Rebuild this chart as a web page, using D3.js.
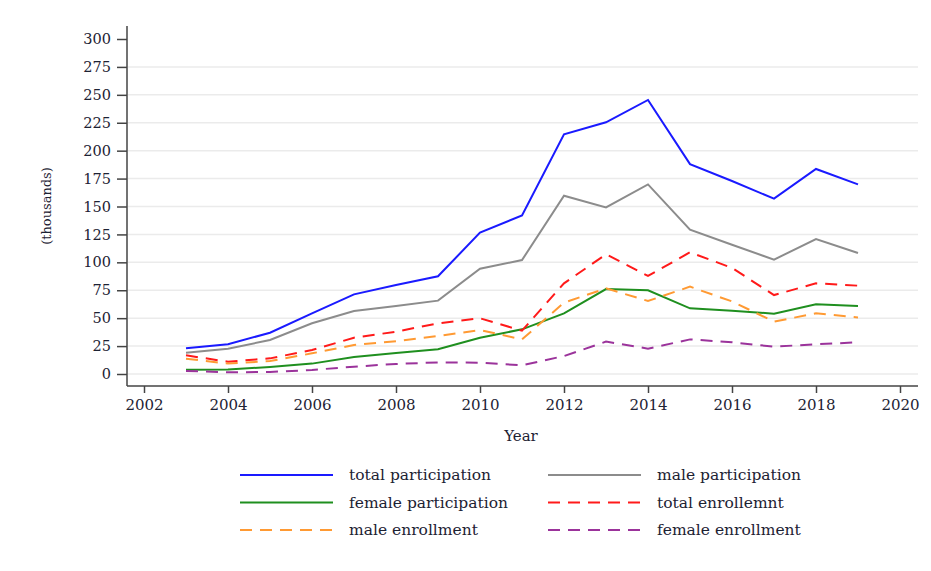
<!DOCTYPE html>
<html>
<head>
<meta charset="utf-8">
<script src="https://cdn.jsdelivr.net/npm/d3@7"></script>
<style>
    body { margin: 0; background: #fff; }
    svg { display: block; }
</style>
</head>
<body>
<svg id="chart" width="931" height="571"></svg>
<script>
const years = [2003, 2004, 2005, 2006, 2007, 2008, 2009, 2010, 2011, 2012, 2013, 2014, 2015, 2016, 2017, 2018, 2019];

const totalParticipation = [23, 26.6, 37, 54.3, 71.3, 79.7, 87.5, 126.6, 142, 214.6, 225.4, 245.4, 188, 172.8, 157, 183.6, 169.8];
const maleParticipation = [19.1, 22.7, 30.4, 45.4, 56.4, 60.9, 65.7, 94.3, 102, 159.7, 149.2, 169.8, 129.3, 115.8, 102.4, 120.9, 108.4];
const femaleParticipation = [3.9, 4, 6.3, 9.3, 15.2, 18.8, 22.1, 32.5, 40, 54.3, 76.1, 74.9, 58.8, 56.7, 54, 62.4, 60.9];
const totalEnrollment = [16.7, 11, 14, 21.5, 32.5, 37.9, 45.4, 49.9, 38.8, 81.2, 107.2, 87.8, 109, 95, 70.7, 81.2, 79.1];
const maleEnrollment = [13.7, 9.3, 11.6, 18.5, 26, 29.3, 34, 39.4, 31, 63.9, 76.7, 65.4, 78.2, 65, 46.9, 54.3, 50.7];
const femaleEnrollment = [2.7, 1.5, 1.8, 3.6, 6.6, 9, 10.4, 10.1, 7.8, 16.1, 29, 22.7, 31, 28.4, 24.5, 26.6, 28.4];

const xTicks = [2002, 2004, 2006, 2008, 2010, 2012, 2014, 2016, 2018, 2020];
const yTicks = [0, 25, 50, 75, 100, 125, 150, 175, 200, 225, 250, 275, 300];

const series = [
    { name: "total participation", values: totalParticipation, colour: "#1a1aff", dashed: false },
    { name: "male participation", values: maleParticipation, colour: "#8c8c8c", dashed: false },
    { name: "female participation", values: femaleParticipation, colour: "#1f8f1f", dashed: false },
    { name: "total enrollemnt", values: totalEnrollment, colour: "#ff1a1a", dashed: true },
    { name: "male enrollment", values: maleEnrollment, colour: "#ff9a33", dashed: true },
    { name: "female enrollment", values: femaleEnrollment, colour: "#9b339b", dashed: true }
];

const font = "DejaVu Serif, Georgia, serif";
const textColour = "#1d2233";

const svg = d3.select("#chart");

const plot = { left: 127, right: 918, top: 26, bottom: 386 };

const x = d3.scaleLinear().domain([2002, 2020]).range([144, 900]);
const y = d3.scaleLinear().domain([0, 300]).range([374, 39]);

// gridlines
svg.append("g")
    .selectAll("line")
    .data(yTicks.filter(t => t < 300))
    .join("line")
        .attr("x1", plot.left + 1)
        .attr("x2", plot.right)
        .attr("y1", d => y(d))
        .attr("y2", d => y(d))
        .attr("stroke", "#ebebeb")
        .attr("stroke-width", 1.5);

// y axis
const yAxis = svg.append("g")
    .attr("transform", `translate(${plot.left},0)`)
    .call(d3.axisLeft(y).tickValues(yTicks).tickSize(10).tickPadding(6));
yAxis.select(".domain").attr("d", `M0,${plot.top}V${plot.bottom}`);
yAxis.selectAll("line, path").attr("stroke", "#444").attr("stroke-width", 1.5);
yAxis.selectAll("text")
    .attr("font-family", font)
    .attr("font-size", 14.5)
    .attr("fill", textColour);

// x axis
const xAxis = svg.append("g")
    .attr("transform", `translate(0,${plot.bottom})`)
    .call(d3.axisBottom(x).tickValues(xTicks).tickFormat(d3.format("d")).tickSize(7).tickPadding(6));
xAxis.select(".domain").attr("d", `M${plot.left},0H${plot.right}`);
xAxis.selectAll("line, path").attr("stroke", "#444").attr("stroke-width", 1.5);
xAxis.selectAll("text")
    .attr("font-family", font)
    .attr("font-size", 15)
    .attr("fill", textColour);

// axis titles
svg.append("text")
    .attr("x", 521)
    .attr("y", 441)
    .attr("text-anchor", "middle")
    .attr("font-family", font)
    .attr("font-size", 15)
    .attr("fill", textColour)
    .text("Year");

svg.append("text")
    .attr("transform", "translate(51,206) rotate(-90)")
    .attr("text-anchor", "middle")
    .attr("font-family", font)
    .attr("font-size", 13)
    .attr("fill", textColour)
    .text("(thousands)");

// lines
const line = d3.line()
    .x((d, i) => x(years[i]))
    .y(d => y(d));

svg.append("g")
    .selectAll("path")
    .data(series)
    .join("path")
        .attr("d", s => line(s.values))
        .attr("fill", "none")
        .attr("stroke", s => s.colour)
        .attr("stroke-width", 2)
        .attr("stroke-dasharray", s => s.dashed ? "12,8" : null);

// legend
const legend = svg.append("g");
const legendItems = legend.selectAll("g")
    .data(series)
    .join("g")
        .attr("transform", (s, i) => `translate(${i % 2 === 0 ? 240 : 548},${475 + Math.floor(i / 2) * 27.5})`);

legendItems.append("line")
    .attr("x1", 0)
    .attr("x2", 93)
    .attr("stroke", s => s.colour)
    .attr("stroke-width", 2)
    .attr("stroke-dasharray", s => s.dashed ? "12,8" : null);

legendItems.append("text")
    .attr("x", 109)
    .attr("dy", "0.35em")
    .attr("font-family", font)
    .attr("font-size", 15.5)
    .attr("fill", textColour)
    .text(s => s.name);
</script>
</body>
</html>
